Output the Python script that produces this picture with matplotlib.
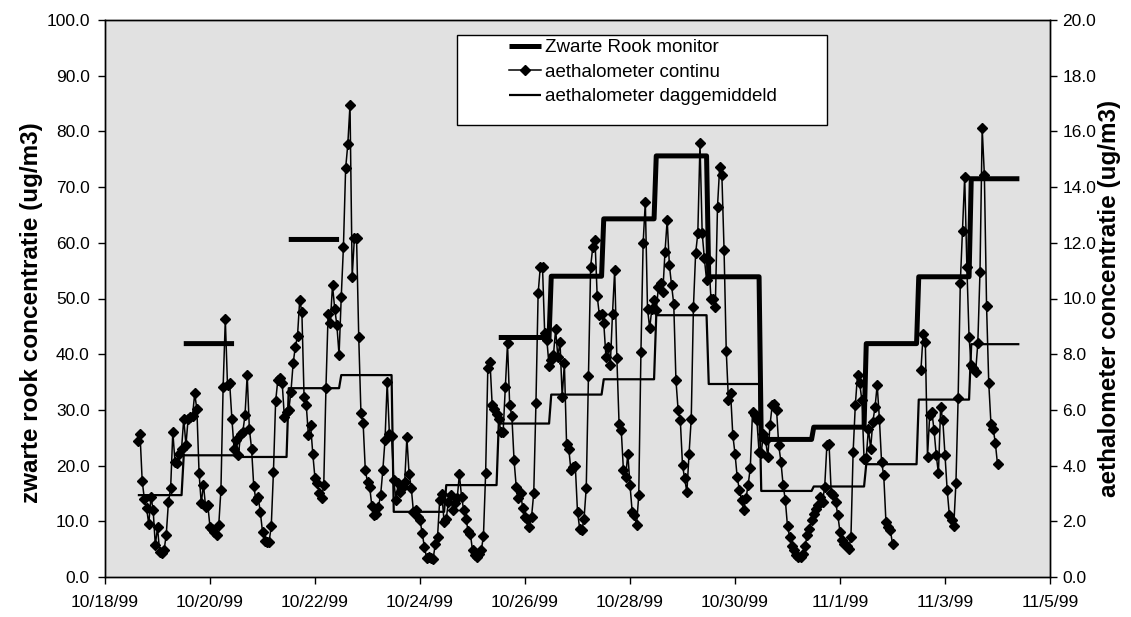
import datetime as dt
import numpy as np
import matplotlib
matplotlib.use("Agg")
import matplotlib.pyplot as plt
import matplotlib.dates as mdates
from matplotlib.patches import Rectangle
from matplotlib.ticker import FixedLocator, FuncFormatter, MultipleLocator, FormatStrFormatter

plt.rcParams["font.family"] = ["Liberation Sans", "DejaVu Sans"]

START = dt.datetime(1999, 10, 18)

# aethalometer continu, hourly (ug/m3); two runs, no data on the night of 11/2
aeth_run1_start = 15   # hours after START
aeth_run1 = [
    4.88, 5.15, 3.45, 2.80, 2.49, 1.89, 2.87, 2.42, 1.14, 1.78, 0.90, 0.85,
    0.96, 1.52, 2.69, 3.18, 5.21, 4.13, 4.10, 4.43, 4.61, 5.69, 4.73, 5.69,
    5.75, 5.77, 6.59, 6.02, 3.74, 2.64, 3.32, 2.52, 2.58, 1.80, 1.74, 1.62,
    1.50, 1.86, 3.14, 6.83, 9.25, 6.89, 6.95, 5.69, 4.61, 4.91, 4.37, 5.15,
    5.21, 5.81, 7.25, 5.31, 4.61, 3.26, 2.76, 2.87, 2.34, 1.62, 1.29, 1.26,
    1.26, 1.82, 3.77, 6.31, 7.07, 7.15, 6.97, 5.73, 5.93, 5.99, 6.65, 7.67,
    8.26, 8.65, 9.94, 9.52, 6.47, 6.17, 5.09, 5.45, 4.41, 3.54, 3.36, 3.00,
    2.82, 3.30, 6.77, 9.46, 9.11, 10.48, 9.64, 9.04, 7.97, 10.06, 11.86, 14.67,
    15.54, 16.95, 10.78, 12.16, 12.16, 8.60, 5.89, 5.53, 3.83, 3.41, 3.23, 2.54,
    2.22, 2.28, 2.52, 2.94, 3.83, 4.91, 7.01, 5.15, 5.06, 3.47, 2.76, 3.36,
    3.05, 3.23, 3.41, 5.01, 3.71, 3.21, 2.34, 2.40, 2.16, 2.04, 1.58, 1.08,
    0.70, 0.72, 0.68, 0.66, 1.18, 1.42, 2.76, 2.97, 1.98, 2.10, 2.69, 2.94,
    2.40, 2.64, 2.82, 3.69, 2.87, 2.40, 2.10, 1.65, 1.56, 0.96, 0.78, 0.72,
    0.84, 0.96, 1.46, 3.72, 7.49, 7.73, 6.17, 6.02, 5.87, 5.69, 5.21, 5.21,
    6.81, 8.39, 6.17, 5.77, 4.19, 3.23, 2.82, 3.00, 2.46, 2.16, 2.10, 1.80,
    2.16, 3.02, 6.23, 10.18, 11.14, 11.14, 8.75, 8.51, 7.57, 7.79, 7.97, 8.89,
    7.91, 8.44, 6.47, 7.67, 4.79, 4.61, 3.83, 3.95, 3.98, 2.34, 1.74, 1.68,
    2.10, 3.21, 7.21, 11.14, 11.86, 12.10, 10.09, 9.40, 9.46, 9.13, 7.91, 8.26,
    7.61, 9.46, 11.02, 7.85, 5.51, 5.27, 3.83, 3.59, 4.43, 3.30, 2.34, 2.22,
    1.86, 2.94, 8.08, 11.98, 13.47, 9.64, 8.93, 9.64, 9.94, 9.58, 10.42, 10.54,
    10.24, 11.68, 12.82, 11.20, 10.48, 9.80, 7.07, 5.99, 5.63, 4.01, 3.54, 3.05,
    4.43, 5.69, 9.70, 11.62, 12.34, 15.57, 12.34, 11.44, 10.66, 11.38, 10.00, 9.97,
    9.70, 13.30, 14.73, 14.43, 11.74, 8.12, 6.35, 6.59, 5.09, 4.43, 3.59, 3.12,
    2.76, 2.40, 2.82, 3.30, 3.93, 5.93, 5.81, 5.63, 4.49, 4.46, 5.15, 4.91,
    4.31, 5.45, 6.17, 6.21, 5.99, 4.73, 4.13, 3.30, 2.76, 1.82, 1.44, 1.10,
    0.96, 0.78, 0.72, 0.72, 0.84, 1.10, 1.50, 1.74, 2.04, 2.28, 2.45, 2.58,
    2.87, 2.69, 3.23, 4.73, 4.77, 3.00, 2.94, 2.69, 2.22, 1.62, 1.32, 1.20,
    1.10, 1.02, 1.42, 4.49, 6.17, 7.25, 6.95, 6.35, 4.25, 4.29, 5.33, 4.61,
    5.57, 6.09, 6.89, 5.69, 4.13, 3.65, 1.98, 1.80, 1.68, 1.20,
]
aeth_run2_start = 373
aeth_run2 = [
    7.43, 8.72, 8.44, 4.31, 5.81, 5.93, 5.27, 4.37, 3.72, 6.11, 5.63, 4.37,
    3.12, 2.22, 2.04, 1.83, 3.38, 6.41, 10.56, 12.43, 14.37, 11.14, 8.62, 7.61,
    7.49, 7.37, 8.39, 10.96, 16.11, 14.43, 9.73, 6.97, 5.51, 5.33, 4.82, 4.05,
]

# daily values: first day runs from the first hour, the rest noon to noon
day_first_hour = 15
day_switch_hour = 36
day_last_hour = 418
aeth_daily = [2.94, 4.37, 4.31, 6.78, 7.25, 2.34, 3.30, 5.51, 6.55,
              7.10, 9.40, 6.93, 3.09, 3.25, 4.05, 6.37, 8.36]
zr_daily = [np.nan, 41.9, np.nan, 60.6, np.nan, np.nan, np.nan, 43.0, 54.0,
            64.3, 75.6, 53.9, 24.7, 26.9, 41.9, 53.9, 71.5]

labels = ["Zwarte Rook monitor", "aethalometer continu", "aethalometer daggemiddeld"]

W, H = 1131, 617
t0 = mdates.date2num(START)


def to_num(hours):
    return t0 + np.asarray(hours, dtype=float) / 24.0


# continuous series, NaN breaks the line over the missing night
cont_h = np.concatenate([aeth_run1_start + np.arange(len(aeth_run1)), [np.nan],
                         aeth_run2_start + np.arange(len(aeth_run2))])
cont_v = np.concatenate([aeth_run1, [np.nan], aeth_run2])

# daily means held for every hour of their day
day_h = np.arange(day_first_hour, day_last_hour + 1)
day_idx = np.where(day_h < day_switch_hour, 0, (day_h - day_switch_hour) // 24 + 1)
aeth_steps = np.asarray(aeth_daily)[day_idx]
zr_steps = np.asarray(zr_daily)[day_idx]

fig = plt.figure(figsize=(W / 100, H / 100), dpi=100)
ax = fig.add_axes([105 / W, 1 - 577 / H, 945 / W, 557 / H])
ax2 = ax.twinx()
ax.set_facecolor("#e1e1e1")

l_zr, = ax.plot(to_num(day_h), zr_steps, color="black", lw=3.6,
                solid_capstyle="butt", label=labels[0])
l_cont, = ax2.plot(to_num(cont_h), cont_v, color="black", lw=1.1,
                   marker="D", ms=5.5, label=labels[1])
l_day, = ax2.plot(to_num(day_h), aeth_steps, color="black", lw=1.6,
                  solid_capstyle="butt", label=labels[2])

ax.set_xlim(t0, t0 + 18)
ax.set_ylim(0, 100)
ax2.set_ylim(0, 20)

ax.xaxis.set_major_locator(FixedLocator(t0 + np.arange(0, 19, 2)))


def date_label(v, pos):
    d = mdates.num2date(v)
    return f"{d.month}/{d.day}/{d:%y}"


ax.xaxis.set_major_formatter(FuncFormatter(date_label))
ax.yaxis.set_major_locator(MultipleLocator(10))
ax.yaxis.set_major_formatter(FormatStrFormatter("%.1f"))
ax2.yaxis.set_major_locator(MultipleLocator(2))
ax2.yaxis.set_major_formatter(FormatStrFormatter("%.1f"))

ax.tick_params(axis="x", direction="out", length=5, width=1, labelsize=12.5, pad=8)
ax.tick_params(axis="y", direction="out", length=5, width=1, labelsize=12.5, pad=6)
ax2.tick_params(axis="y", direction="out", length=5, width=1, labelsize=12.5, pad=4)
for a in (ax, ax2):
    for s in a.spines.values():
        s.set_color("black")
        s.set_linewidth(1.0)

ax.set_ylabel("zwarte rook concentratie (ug/m3)", fontsize=17.5, fontweight="bold")
ax2.set_ylabel("aethalometer concentratie (ug/m3)", fontsize=17.5, fontweight="bold")
ax.yaxis.set_label_coords(-0.066, 0.475)
ax2.yaxis.set_label_coords(1.051, 0.5)

# legend: white box with the entries set in from the left
box = Rectangle((457 / W, 1 - 125 / H), 370 / W, 90 / H, transform=fig.transFigure,
                facecolor="white", edgecolor="black", lw=1.0, zorder=4)
fig.add_artist(box)
fig.legend([l_zr, l_cont, l_day], labels, loc="upper left",
           bbox_to_anchor=(509 / W, 1 - 39 / H), frameon=False, fontsize=13.5,
           handlelength=1.7, handletextpad=0.2, labelspacing=0.4,
           borderpad=0, borderaxespad=0, numpoints=1)

fig.savefig("out.png", dpi=100)
